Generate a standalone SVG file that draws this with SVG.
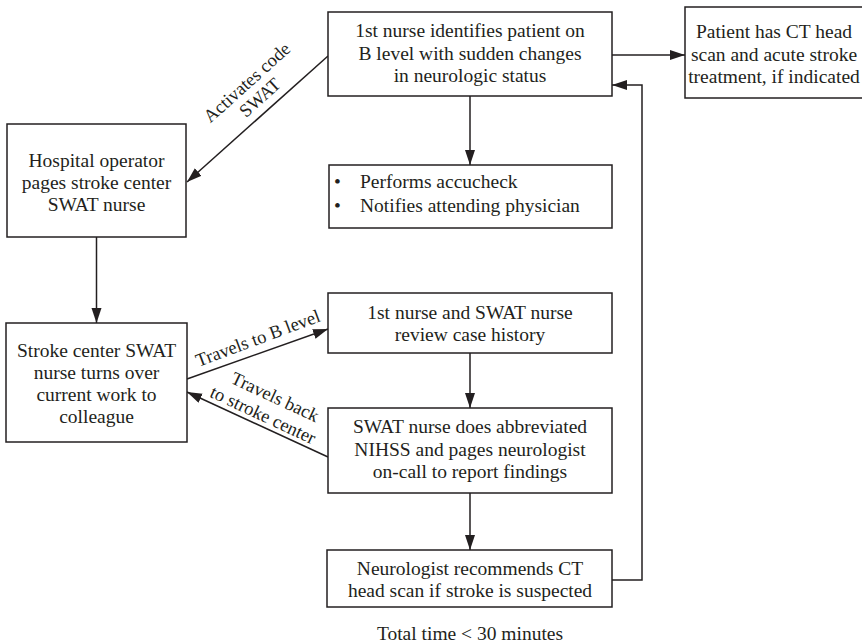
<svg xmlns="http://www.w3.org/2000/svg" width="862" height="644" viewBox="0 0 862 644">
  <style>
    .box { fill: #ffffff; stroke: #231f20; stroke-width: 1.5; }
    .t { font-family: "Liberation Serif", "Times New Roman", serif; font-size: 19.5px; fill: #231f20; text-anchor: middle; }
    .tl { font-family: "Liberation Serif", "Times New Roman", serif; font-size: 19.5px; fill: #231f20; }
    .lbl { font-family: "Liberation Serif", "Times New Roman", serif; font-size: 18.5px; fill: #231f20; text-anchor: middle; }
    .edge { fill: none; stroke: #231f20; stroke-width: 1.5; }
  </style>
  <defs>
    <marker id="arrow" markerUnits="userSpaceOnUse" markerWidth="16" markerHeight="12" refX="15" refY="5" orient="auto">
      <path d="M0,0 L15,5 L0,10 Z" fill="#231f20"/>
    </marker>
  </defs>
  <rect width="862" height="644" fill="#ffffff"/>

  <g id="connectors">
    <!-- first nurse -> CT scan -->
    <line class="edge" x1="612" y1="55" x2="685" y2="55" marker-end="url(#arrow)"/>
    <!-- first nurse -> operator -->
    <line class="edge" x1="328" y1="56" x2="187" y2="182" marker-end="url(#arrow)"/>
    <!-- first nurse -> accucheck -->
    <line class="edge" x1="470" y1="96" x2="470" y2="165" marker-end="url(#arrow)"/>
    <!-- operator -> stroke center nurse -->
    <line class="edge" x1="96.5" y1="237" x2="96.5" y2="323" marker-end="url(#arrow)"/>
    <!-- stroke center nurse -> review case -->
    <line class="edge" x1="187" y1="379" x2="328" y2="329" marker-end="url(#arrow)"/>
    <!-- NIHSS -> stroke center nurse -->
    <line class="edge" x1="328" y1="457" x2="187" y2="392" marker-end="url(#arrow)"/>
    <!-- review case -> NIHSS -->
    <line class="edge" x1="470" y1="353" x2="470" y2="408" marker-end="url(#arrow)"/>
    <!-- NIHSS -> neurologist -->
    <line class="edge" x1="470" y1="493" x2="470" y2="550" marker-end="url(#arrow)"/>
    <!-- neurologist -> back to first nurse -->
    <polyline class="edge" points="612,580 642,580 642,85 612,85" marker-end="url(#arrow)"/>

    <text class="lbl" transform="translate(251,87) rotate(-42)">Activates code</text>
    <text class="lbl" transform="translate(264,102) rotate(-42)">SWAT</text>
    <text class="lbl" transform="translate(260,344) rotate(-20.5)">Travels to B level</text>
    <text class="lbl" transform="translate(272.5,402.5) rotate(25)">Travels back</text>
    <text class="lbl" transform="translate(260.5,420.5) rotate(25)">to stroke center</text>
  </g>

  <g id="first-nurse">
    <rect class="box" x="328" y="12" width="284" height="84"/>
    <text class="t" x="470" y="37">1st nurse identifies patient on</text>
    <text class="t" x="470" y="60">B level with sudden changes</text>
    <text class="t" x="470" y="82">in neurologic status</text>
  </g>

  <g id="ct-scan">
    <rect class="box" x="685" y="7" width="190" height="91"/>
    <text class="t" x="774" y="38">Patient has CT head</text>
    <text class="t" x="774" y="61">scan and acute stroke</text>
    <text class="t" x="774" y="83">treatment, if indicated</text>
  </g>

  <g id="operator">
    <rect class="box" x="7" y="124" width="179" height="113"/>
    <text class="t" x="96.5" y="167">Hospital operator</text>
    <text class="t" x="96.5" y="189">pages stroke center</text>
    <text class="t" x="96.5" y="211">SWAT nurse</text>
  </g>

  <g id="accucheck">
    <rect class="box" x="329" y="165" width="283" height="63"/>
    <text class="tl" x="334" y="188">•</text>
    <text class="tl" x="360" y="188">Performs accucheck</text>
    <text class="tl" x="334" y="212">•</text>
    <text class="tl" x="360" y="212">Notifies attending physician</text>
  </g>

  <g id="stroke-center-nurse">
    <rect class="box" x="6" y="323" width="181" height="119"/>
    <text class="t" x="96.5" y="357">Stroke center SWAT</text>
    <text class="t" x="96.5" y="379">nurse turns over</text>
    <text class="t" x="96.5" y="401">current work to</text>
    <text class="t" x="96.5" y="423">colleague</text>
  </g>

  <g id="review-case">
    <rect class="box" x="328" y="293" width="284" height="60"/>
    <text class="t" x="470" y="319">1st nurse and SWAT nurse</text>
    <text class="t" x="470" y="341">review case history</text>
  </g>

  <g id="nihss">
    <rect class="box" x="328" y="408" width="284" height="85"/>
    <text class="t" x="470" y="433">SWAT nurse does abbreviated</text>
    <text class="t" x="470" y="456">NIHSS and pages neurologist</text>
    <text class="t" x="470" y="478">on-call to report findings</text>
  </g>

  <g id="neurologist">
    <rect class="box" x="327" y="550" width="285" height="57"/>
    <text class="t" x="470" y="575">Neurologist recommends CT</text>
    <text class="t" x="470" y="597">head scan if stroke is suspected</text>
  </g>

  <text class="t" x="470" y="640">Total time &lt; 30 minutes</text>
</svg>
